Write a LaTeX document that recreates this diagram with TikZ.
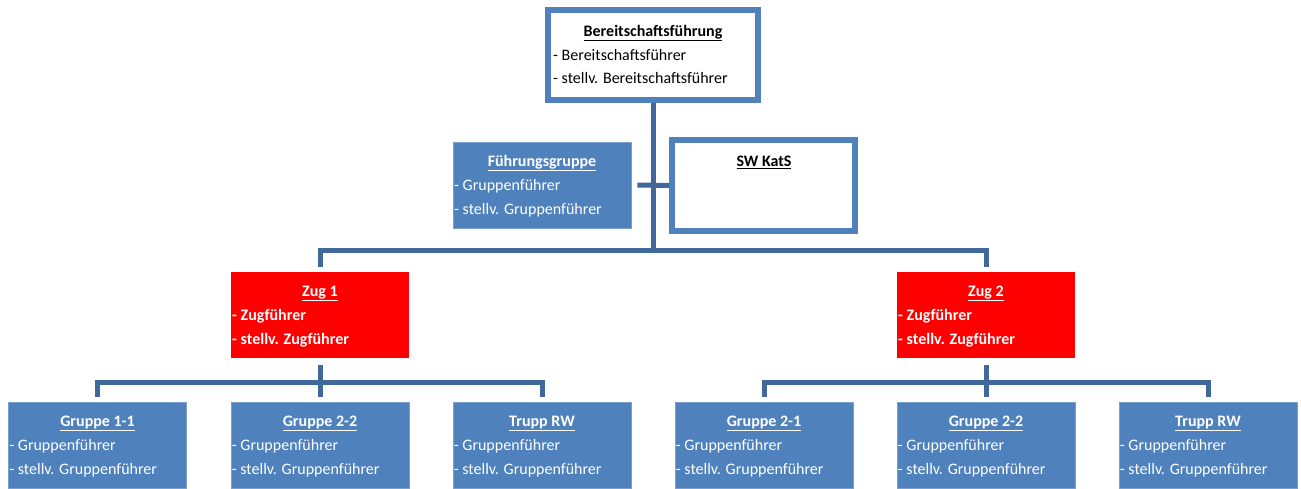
\documentclass[tikz,border=0pt]{standalone}
\usepackage{fontspec}
\setmainfont{Carlito}
\definecolor{boxblue}{HTML}{4F81BD}
\definecolor{connblue}{HTML}{41689B}
\definecolor{zugred}{HTML}{FF0000}
\begin{document}
\begin{tikzpicture}[x=1pt,y=-1pt,
  conn/.style={draw=connblue,line width=5pt,line join=miter},
  whitebox/.style={draw=boxblue,line width=6pt,fill=white,inner sep=0pt},
  bluebox/.style={fill=boxblue,draw=boxblue!75!white,line width=0.6pt,minimum width=178pt,minimum height=86pt,inner sep=0pt},
  redbox/.style={fill=zugred,minimum width=178pt,minimum height=86pt,inner sep=0pt},
  ttl/.style={anchor=mid,inner sep=0pt,font=\fontsize{16}{18}\selectfont\bfseries},
  ln/.style={anchor=mid west,inner sep=0pt,font=\fontsize{16}{18}\selectfont},
  lnb/.style={ln,font=\fontsize{16}{18}\selectfont\bfseries},
  wt/.style={text=white},
]
\useasboundingbox (0,0) rectangle (1301,488);

% top box
\node[whitebox,minimum width=210pt,minimum height=90pt] (top) at (653,55) {};
\node[ttl] (topT) at (653,34) {\underline{Bereitschaftsführung}};
\node[ln] (topA) at (553,58) {- Bereitschaftsführer};
\node[ln] (topB) at (553,81) {- stellv. Bereitschaftsführer};

% Fuehrungsgruppe
\node[bluebox] (fg) at (542,185) {};
\node[ttl,wt] (fgT) at (542,164) {\underline{Führungsgruppe}};
\node[ln,wt] (fgA) at (454,188) {- Gruppenführer};
\node[ln,wt] (fgB) at (454,212) {- stellv. Gruppenführer};

% SW KatS
\node[whitebox,minimum width=183pt,minimum height=91pt] (sw) at (763.5,185.5) {};
\node[ttl] (swT) at (764,164) {\underline{SW KatS}};

% Zug boxes
\node[redbox] (zug1) at (320,315) {};
\node[ttl,wt] (z1T) at (320,294) {\underline{Zug 1}};
\node[lnb,wt] (z1A) at (232,318) {- Zugführer};
\node[lnb,wt] (z1B) at (232,342) {- stellv. Zugführer};

\node[redbox] (zug2) at (986,315) {};
\node[ttl,wt] (z2T) at (986,294) {\underline{Zug 2}};
\node[lnb,wt] (z2A) at (898,318) {- Zugführer};
\node[lnb,wt] (z2B) at (898,342) {- stellv. Zugführer};

% bottom row
\foreach \nm/\cx/\tt in {g11/97.5/Gruppe 1-1, g12/320/Gruppe 2-2, g13/542/Trupp RW, g21/764/Gruppe 2-1, g22/986/Gruppe 2-2, g23/1208/Trupp RW}{
  \node[bluebox] (\nm) at (\cx,445) {};
  \node[ttl,wt] (\nm T) at (\cx,424) {\underline{\tt}};
  \node[ln,wt] (\nm A) at ([xshift=1pt]\nm.west |- 0,448) {- Gruppenführer};
  \node[ln,wt] (\nm B) at ([xshift=1pt]\nm.west |- 0,472) {- stellv. Gruppenführer};
}

% connectors
\coordinate (barA) at (0,250);
\coordinate (barB) at (0,382);
\draw[conn] (top.south) -- ([yshift=-2.5pt]top.south |- barA);
\draw[conn] ([yshift=5pt]zug1.north) -- (zug1.north |- barA) -- (zug2.north |- barA) -- ([yshift=5pt]zug2.north);
\draw[conn] ([xshift=6pt]fg.east) -- (sw.west);

\draw[conn] ([yshift=5pt]g11.north) -- (g11.north |- barB) -- (g13.north |- barB) -- ([yshift=5pt]g13.north);
\draw[conn] ([yshift=-7pt]zug1.south) -- ([yshift=5pt]g12.north);
\draw[conn] ([yshift=5pt]g21.north) -- (g21.north |- barB) -- (g23.north |- barB) -- ([yshift=5pt]g23.north);
\draw[conn] ([yshift=-7pt]zug2.south) -- ([yshift=5pt]g22.north);
\end{tikzpicture}
\end{document}
